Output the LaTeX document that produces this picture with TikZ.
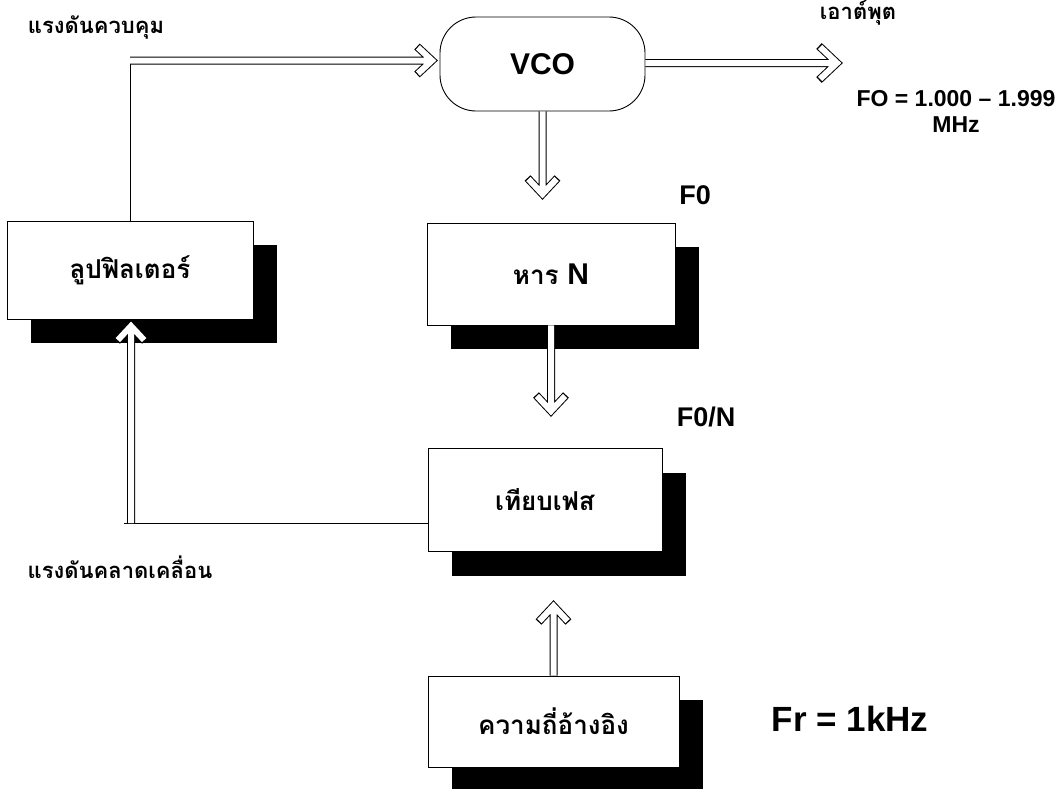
\documentclass[tikz,border=0pt]{standalone}
\usepackage{fontspec}
\setmainfont{Liberation Sans}
\newfontfamily\thai[Script=Thai]{Loma}
\usetikzlibrary{calc,shadows}
\newcommand\hollowarrow[4]{%
  \draw[line width=8pt,line join=miter] (#1) -- (#2) ($(#2)+#3$) -- (#2) -- ($(#2)+#4$);
  \draw[white,line width=6pt,line join=miter] (#1) -- (#2) ($(#2)+0.94*#3$) -- (#2) -- ($(#2)+0.94*#4$);
}
\begin{document}
\begin{tikzpicture}[x=1pt,y=-1pt,
  box/.style={draw, line width=0.9pt, fill=white, inner sep=0pt,
    general shadow={fill=black, shadow xshift=24pt, shadow yshift=-24pt}},
  vcobox/.style={draw, line width=0.9pt, fill=white, rounded corners=36pt, inner sep=0pt},
  thline/.style={line width=0.9pt},
  lbl/.style={font=\thai\bfseries\fontsize{22}{24}\selectfont},
  boxlbl/.style={font=\thai\bfseries\fontsize{26}{30}\selectfont},
  big/.style={font=\bfseries\fontsize{27}{30}\selectfont},
]
\useasboundingbox (0,0) rectangle (1062,788);
\fill[white] (0,0) rectangle (1062,788);

% boxes
\node[box, minimum width=246pt, minimum height=98pt, boxlbl] (filter) at (130,270) {ลูปฟิลเตอร์};
\node[box, minimum width=248pt, minimum height=102pt, boxlbl] (divN) at (551,274) {หาร {\rmfamily\bfseries\fontsize{30}{34}\selectfont N}};
\node[box, minimum width=234pt, minimum height=103pt, boxlbl] (pd) at (545,500) {เทียบเฟส};
\node[box, minimum width=251pt, minimum height=91pt, boxlbl] (ref) at (553.5,721.5) {ความถี่อ้างอิง};
\node[vcobox, minimum width=205pt, minimum height=94pt, font=\bfseries\fontsize{30}{34}\selectfont] (vco) at (542.5,64) {VCO};

% labels
\node[lbl] (l1) at (96,27) {แรงดันควบคุม};
\node[lbl] (l2) at (858,13) {เอาต์พุต};
\node[lbl] (l3) at (120,567) {แรงดันคลาดเคลื่อน};
\node[font=\bfseries\fontsize{23}{26}\selectfont, align=center] (fo) at (956,111) {FO = 1.000 – 1.999\\MHz};
\node[big] (f0) at (695,195) {F0};
\node[big] (f0n) at (706,417) {F0/N};
\node[font=\bfseries\fontsize{35}{38}\selectfont] (fr) at (850,719) {Fr = 1kHz};

% coordinates
\coordinate (ctop) at (130,57);
\coordinate (cin) at (130,60.5);
\coordinate (tin) at (432,60.5);
\coordinate (tout) at (837,63);
\coordinate (td1) at (542.5,194);
\coordinate (td2) at (551,411);
\coordinate (tu1) at (553.5,606);
\coordinate (cbl) at (124,523);
\coordinate (cb2) at (131,523);
\coordinate (tu2) at (131,326);

% connectors
\draw[thline] (filter.north) -- (ctop);
\draw[thline] (cbl) -- (cbl -| pd.west);
\hollowarrow{cin}{tin}{(-15,-14)}{(-15,14)}
\hollowarrow{vco.east |- tout}{tout}{(-18,-17)}{(-18,17)}
\hollowarrow{vco.south}{td1}{(-15,-16)}{(15,-16)}
\hollowarrow{divN.south}{td2}{(-15,-16)}{(15,-16)}
\hollowarrow{ref.north}{tu1}{(-15,16)}{(15,16)}
\hollowarrow{cb2}{tu2}{(-14,15)}{(14,15)}
\end{tikzpicture}
\end{document}
